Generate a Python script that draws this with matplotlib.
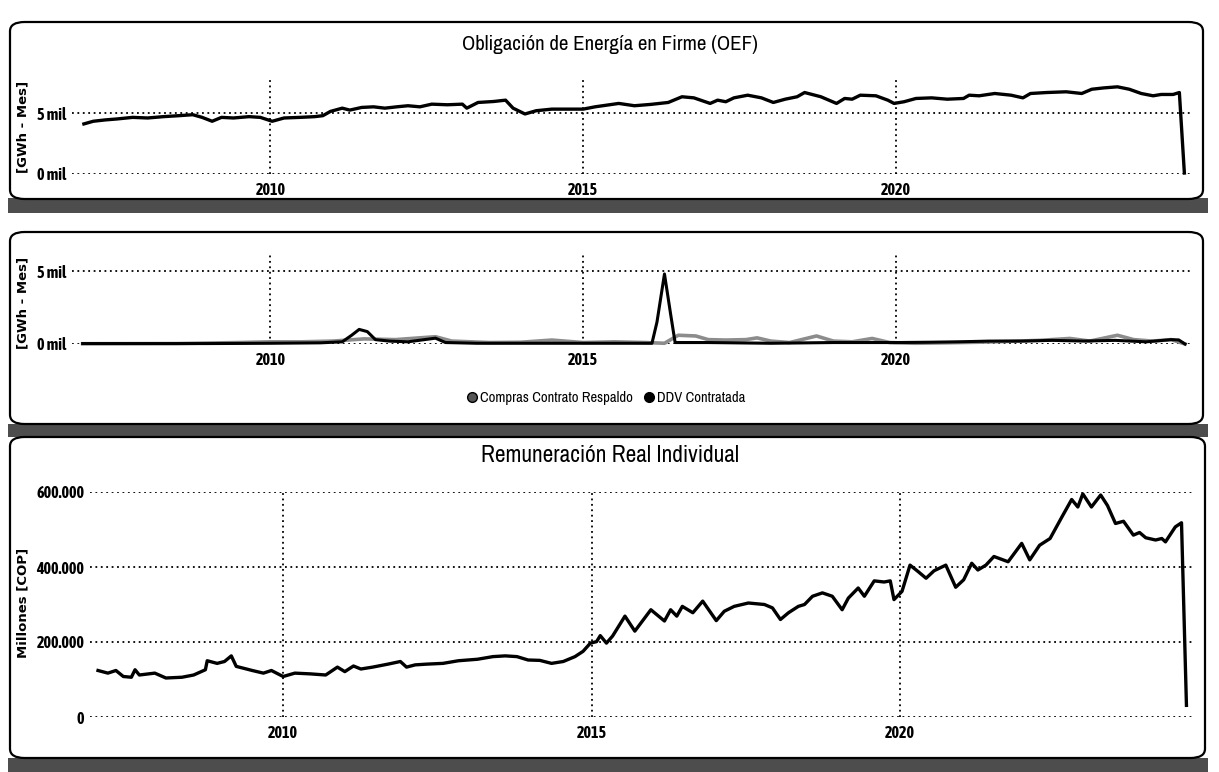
import matplotlib
matplotlib.use("Agg")
import matplotlib.pyplot as plt
from matplotlib import font_manager as fm
from matplotlib.patches import FancyBboxPatch, Rectangle
from matplotlib.lines import Line2D

W, H = 1219, 772

# --- data (decimal years) ---
oef_years = [2007.02, 2007.17, 2007.36, 2007.55, 2007.80, 2008.04, 2008.29, 2008.54,
             2008.76, 2008.91, 2009.07, 2009.22, 2009.41, 2009.66, 2009.84, 2010.03,
             2010.22, 2010.47, 2010.71, 2010.84, 2010.96, 2011.15, 2011.27, 2011.46,
             2011.65, 2011.83, 2012.02, 2012.20, 2012.39, 2012.58, 2012.83, 2013.07,
             2013.14, 2013.32, 2013.57, 2013.76, 2013.88, 2014.07, 2014.25, 2014.50,
             2014.75, 2015.00, 2015.19, 2015.57, 2015.82, 2016.08, 2016.36, 2016.58,
             2016.77, 2017.03, 2017.15, 2017.28, 2017.41, 2017.63, 2017.85, 2018.04,
             2018.23, 2018.42, 2018.54, 2018.80, 2019.05, 2019.18, 2019.30, 2019.43,
             2019.68, 2019.87, 2019.97, 2020.13, 2020.32, 2020.57, 2020.82, 2021.08,
             2021.17, 2021.33, 2021.58, 2021.84, 2022.03, 2022.15, 2022.41, 2022.72,
             2022.97, 2023.13, 2023.32, 2023.54, 2023.73, 2023.92, 2024.11, 2024.24,
             2024.43, 2024.53, 2024.61]
oef_values = [4.13, 4.35, 4.46, 4.54, 4.67, 4.62, 4.73, 4.81,
              4.89, 4.67, 4.35, 4.67, 4.62, 4.73, 4.67, 4.35,
              4.62, 4.67, 4.73, 4.81, 5.16, 5.43, 5.27, 5.49,
              5.54, 5.43, 5.54, 5.63, 5.54, 5.76, 5.71, 5.76,
              5.43, 5.90, 5.98, 6.09, 5.43, 4.95, 5.22, 5.35,
              5.35, 5.35, 5.54, 5.82, 5.63, 5.74, 5.90, 6.37,
              6.28, 5.82, 6.09, 5.96, 6.28, 6.50, 6.28, 5.90,
              6.17, 6.37, 6.72, 6.37, 5.82, 6.23, 6.17, 6.50,
              6.45, 6.09, 5.82, 5.96, 6.23, 6.28, 6.17, 6.23,
              6.50, 6.45, 6.64, 6.50, 6.28, 6.64, 6.72, 6.78,
              6.64, 6.99, 7.10, 7.19, 6.99, 6.64, 6.45, 6.56,
              6.56, 6.72, 0.08]

compras_years = [2007.0, 2008.5, 2009.5, 2010.0, 2010.5, 2011.0, 2011.5, 2012.0, 2012.64,
                 2012.9, 2013.5, 2014.0, 2014.5, 2015.0, 2015.5, 2016.0, 2016.3, 2016.52,
                 2016.8, 2017.0, 2017.28, 2017.6, 2017.78, 2018.0, 2018.3, 2018.73, 2019.0,
                 2019.3, 2019.62, 2019.9, 2020.3, 2020.8, 2021.3, 2021.8, 2022.3, 2022.78,
                 2023.1, 2023.54, 2023.8, 2024.1, 2024.4, 2024.62]
compras_values = [0.02, 0.03, 0.10, 0.15, 0.15, 0.20, 0.35, 0.30, 0.50,
                  0.20, 0.10, 0.12, 0.27, 0.10, 0.15, 0.10, 0.05, 0.60,
                  0.55, 0.30, 0.27, 0.30, 0.42, 0.20, 0.10, 0.55, 0.20,
                  0.15, 0.38, 0.10, 0.05, 0.08, 0.12, 0.18, 0.25, 0.38,
                  0.20, 0.60, 0.30, 0.20, 0.30, 0.0]

ddv_years = [2007.0, 2009.0, 2010.0, 2010.8, 2011.15, 2011.3, 2011.42, 2011.55, 2011.68,
             2011.9, 2012.2, 2012.64, 2012.8, 2013.3, 2014.0, 2015.0, 2016.1, 2016.18,
             2016.3, 2016.4, 2016.47, 2017.0, 2018.0, 2019.0, 2020.0, 2020.5, 2021.0,
             2021.5, 2022.0, 2022.5, 2023.0, 2023.5, 2024.0, 2024.4, 2024.52, 2024.62]
ddv_values = [0.03, 0.03, 0.05, 0.08, 0.15, 0.60, 1.00, 0.85, 0.30,
              0.20, 0.15, 0.40, 0.10, 0.05, 0.05, 0.05, 0.05, 1.50,
              4.80, 2.00, 0.10, 0.10, 0.05, 0.10, 0.10, 0.12, 0.15,
              0.20, 0.20, 0.25, 0.20, 0.25, 0.15, 0.30, 0.28, 0.0]

rem_years = [2007.00, 2007.16, 2007.29, 2007.41, 2007.54, 2007.60, 2007.67, 2007.92,
             2008.10, 2008.36, 2008.55, 2008.74, 2008.77, 2008.93, 2009.05, 2009.16,
             2009.24, 2009.50, 2009.68, 2009.81, 2010.00, 2010.19, 2010.44, 2010.69,
             2010.88, 2011.00, 2011.14, 2011.26, 2011.45, 2011.70, 2011.90, 2012.00,
             2012.14, 2012.33, 2012.59, 2012.84, 2013.15, 2013.40, 2013.60, 2013.79,
             2013.97, 2014.16, 2014.35, 2014.54, 2014.73, 2014.86, 2014.98, 2015.08,
             2015.14, 2015.24, 2015.34, 2015.54, 2015.70, 2015.96, 2016.18, 2016.28,
             2016.38, 2016.47, 2016.64, 2016.80, 2017.02, 2017.15, 2017.31, 2017.54,
             2017.80, 2017.93, 2018.06, 2018.19, 2018.35, 2018.45, 2018.58, 2018.74,
             2018.90, 2019.06, 2019.16, 2019.32, 2019.42, 2019.58, 2019.74, 2019.84,
             2019.90, 2020.03, 2020.16, 2020.29, 2020.42, 2020.55, 2020.74, 2020.90,
             2021.03, 2021.16, 2021.26, 2021.39, 2021.52, 2021.75, 2021.97, 2022.10,
             2022.26, 2022.43, 2022.62, 2022.78, 2022.88, 2022.96, 2023.10, 2023.25,
             2023.36, 2023.49, 2023.62, 2023.78, 2023.88, 2023.98, 2024.14, 2024.24,
             2024.30, 2024.46, 2024.56, 2024.64]
rem_values = [124, 117, 124, 108, 106, 126, 112, 117,
              104, 106, 112, 126, 150, 143, 148, 163,
              135, 124, 117, 124, 108, 117, 115, 112,
              133, 121, 136, 128, 133, 141, 148, 133,
              139, 141, 143, 150, 154, 161, 163, 161,
              152, 151, 143, 148, 161, 175, 197, 201,
              217, 197, 216, 269, 229, 286, 256, 286,
              269, 295, 278, 309, 257, 282, 295, 304,
              300, 291, 260, 278, 295, 300, 322, 331,
              322, 286, 317, 344, 322, 363, 360, 363,
              313, 335, 405, 388, 370, 390, 405, 346,
              366, 410, 392, 405, 428, 414, 463, 419,
              458, 476, 533, 580, 560, 595, 560, 592,
              564, 516, 522, 485, 492, 478, 472, 476,
              467, 507, 518, 31]
rem_values = [v * 1000 for v in rem_values]

year_ticks = [2010, 2015, 2020]


def _heavy(w):
    if isinstance(w, str):
        return w.lower() in ('bold', 'heavy', 'black', 'extra bold', 'demibold', 'semibold')
    return w >= 600


# narrow fonts: one for regular text, one that has a bold face for tick labels
NARROW, SCALE = 'DejaVu Sans', 0.8
NARROW_B, SCALE_B = 'DejaVu Sans', 0.8
for f in fm.fontManager.ttflist:
    if 'Narrow' in f.name or 'Condensed' in f.name:
        if NARROW == 'DejaVu Sans':
            NARROW, SCALE = f.name, 1.0
        if _heavy(f.weight) and NARROW_B == 'DejaVu Sans':
            NARROW_B, SCALE_B = f.name, 1.0
if NARROW_B == 'DejaVu Sans' and NARROW != 'DejaVu Sans':
    NARROW_B, SCALE_B = NARROW, 1.0

plt.rcParams['font.family'] = ['DejaVu Sans']

fig = plt.figure(figsize=(W / 100, H / 100), dpi=100)
fig.patch.set_facecolor('white')


def box(x0, y0, x1, y1):
    """figure fraction rect from pixel coords (top-left origin)"""
    return [x0 / W, 1 - y1 / H, (x1 - x0) / W, (y1 - y0) / H]


# scan-like dark bands between panels
for y0, y1 in [(198, 213), (424, 437), (758, 772)]:
    fig.patches.append(Rectangle((8 / W, 1 - y1 / H), 1200 / W, (y1 - y0) / H,
                                 transform=fig.transFigure, facecolor='#4d4d4d',
                                 edgecolor='none', zorder=0))

# rounded panel frames
for x0, y0, x1, y1 in [(10, 22, 1203, 199), (10, 232, 1203, 424), (10, 437, 1205, 758)]:
    fig.patches.append(FancyBboxPatch((x0 / W, 1 - y1 / H), (x1 - x0) / W, (y1 - y0) / H,
                                      boxstyle="round,pad=0,rounding_size=0.012",
                                      transform=fig.transFigure, facecolor='white',
                                      edgecolor='black', linewidth=1.6, zorder=1))


def style(ax, yticks, ylabels, xlim, ylim):
    ax.set_xlim(*xlim)
    ax.set_ylim(*ylim)
    ax.set_facecolor('none')
    for s in ax.spines.values():
        s.set_visible(False)
    ax.set_xticks(year_ticks)
    ax.set_xticklabels([str(y) for y in year_ticks])
    ax.set_yticks(yticks)
    ax.set_yticklabels(ylabels)
    ax.tick_params(axis='y', length=0, pad=4)
    ax.tick_params(axis='x', length=0, pad=6)
    for lab in ax.get_xticklabels() + ax.get_yticklabels():
        lab.set_family(NARROW_B)
        lab.set_fontweight('bold')
        lab.set_fontsize(11.5 * SCALE_B)
    ax.grid(True, color='black', linestyle=(0, (1, 2)), linewidth=1.3)
    ax.set_axisbelow(True)


def ylab(text, ycenter):
    fig.text(23 / W, 1 - ycenter / H, text, rotation=90, ha='center', va='center',
             fontsize=9.5, fontweight='bold')


# panel 1: OEF
ax1 = fig.add_axes(box(72, 77, 1190, 174))
ax1.set_zorder(2)
ax1.plot(oef_years, oef_values, color='black', linewidth=2.4, clip_on=False)
style(ax1, [0, 5], ['0 mil', '5 mil'], (2006.83, 2024.70), (0, 8))
ylab('[GWh - Mes]', 127)
fig.text(610 / W, 1 - 45 / H, 'Obligación de Energía en Firme (OEF)', ha='center',
         va='center', fontsize=15 * SCALE, family=NARROW)

# panel 2: compras / DDV
ax2 = fig.add_axes(box(72, 255, 1190, 344))
ax2.set_zorder(2)
ax2.plot(compras_years, compras_values, color='#8c8c8c', linewidth=2.6, clip_on=False,
         label='Compras Contrato Respaldo')
ax2.plot(ddv_years, ddv_values, color='black', linewidth=2.2, clip_on=False,
         label='DDV Contratada')
style(ax2, [0, 5], ['0 mil', '5 mil'], (2006.83, 2024.70), (0, 6.1))
ylab('[GWh - Mes]', 303)
handles = [Line2D([], [], color='none', marker='o', markersize=7, markerfacecolor='#555555',
                  markeredgecolor='black'),
           Line2D([], [], color='none', marker='o', markersize=7, markerfacecolor='black',
                  markeredgecolor='black')]
fig.legend(handles, ['Compras Contrato Respaldo', 'DDV Contratada'], loc='center',
           bbox_to_anchor=(605 / W, 1 - 398 / H), ncol=2, frameon=False,
           prop={'family': NARROW, 'size': 10.5 * SCALE},
           handletextpad=0.05, columnspacing=0.6, handlelength=1.0)

# panel 3: remuneracion
ax3 = fig.add_axes(box(90, 492, 1192, 717))
ax3.set_zorder(2)
ax3.plot(rem_years, rem_values, color='black', linewidth=2.4, clip_on=False)
style(ax3, [0, 200000, 400000, 600000], ['0', '200.000', '400.000', '600.000'],
      (2006.87, 2024.73), (0, 600000))
ylab('Millones [COP]', 603)
fig.text(610 / W, 1 - 456 / H, 'Remuneración Real Individual', ha='center',
         va='center', fontsize=16.8 * SCALE, family=NARROW)

fig.savefig('out.png', dpi=100, facecolor='white')
